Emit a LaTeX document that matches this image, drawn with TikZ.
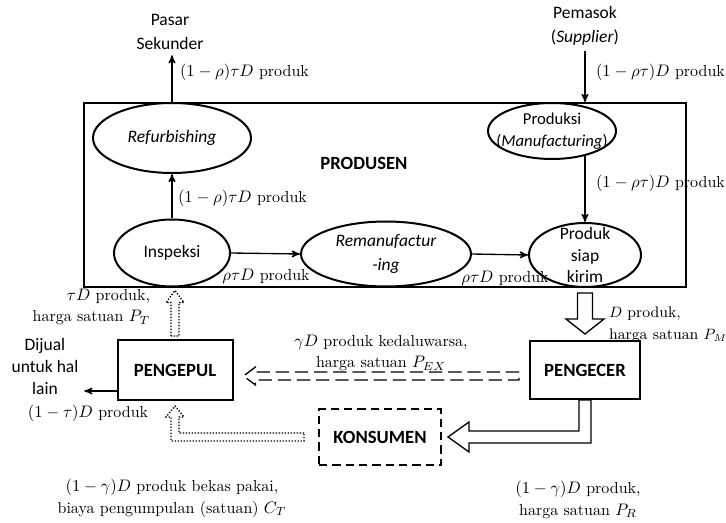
\documentclass[tikz,border=0pt]{standalone}
\usepackage{fontspec}
\setsansfont{Carlito}
\usetikzlibrary{shapes.geometric, arrows, positioning, calc}
\newcommand{\px}{0.6pt}

\begin{document}
\begin{tikzpicture}[
            x=0.6pt, y=-0.6pt,
            >=stealth', % Arrow tips
            % Text styles
            sans/.style={font=\sffamily\fontsize{10.5}{14}\selectfont, align=center},
            lbl/.style={font=\fontsize{9.6}{13}\selectfont, inner sep=1pt},
            % Block styles
            proc/.style={
                ellipse,
                draw,
                very thick,
                inner sep=0pt
            },
            agent/.style={
                rectangle,
                draw,
                very thick,
                inner sep=0pt,
                font=\sffamily\bfseries\fontsize{11.2}{14}\selectfont
            },
            flow/.style={draw, ->, thick},
            hollow/.style={draw, thick, fill=white, line join=miter}
        ]
        \useasboundingbox (0,0) rectangle (726,523);

        % --- Outer nodes ---
        \node [sans] (pasar) at (170,32) {Pasar\\Sekunder};
        \node [sans] (pemasok) at (585,26) {Pemasok\\(\textit{Supplier})};
        \node [sans, font=\sffamily\fontsize{10.5}{13.2}\selectfont] (dijual) at (45,366) {Dijual\\untuk hal\\lain};

        % --- Produsen container ---
        \node [draw, very thick, minimum width=602*\px, minimum height=184*\px] (produsen) at (385,195) {};
        \node [agent, draw=none] (produsenlbl) at (364,163) {PRODUSEN};

        % --- Processes ---
        \node [proc, minimum width=158*\px, minimum height=70*\px,
               label={[sans]center:\textit{Refurbishing}}] (refurb) at (172,138) {};
        \node [proc, minimum width=116*\px, minimum height=67*\px,
               label={[sans]center:Inspeksi}] (inspeksi) at (172,253) {};
        \node [proc, minimum width=170*\px, minimum height=65*\px,
               label={[sans]center:\textit{Remanufactur}\\\textit{-ing}}] (reman) at (386,254) {};
        \node [proc, minimum width=112*\px, minimum height=64*\px,
               label={[sans, font=\sffamily\fontsize{10.5}{13}\selectfont]center:Produk\\siap\\kirim}] (kirim) at (585,255) {};
        \node [proc, minimum width=128*\px, minimum height=56*\px,
               label={[sans, font=\sffamily\fontsize{10}{13.5}\selectfont]center:Produksi\\(\textit{Manufacturing})}] (produksi) at (552,131) {};

        % --- Agents ---
        \node [agent, minimum width=115*\px, minimum height=60*\px] (pengepul) at (175,370) {PENGEPUL};
        \node [agent, minimum width=110*\px, minimum height=58*\px] (pengecer) at (585,370) {PENGECER};
        \node [agent, dash pattern=on 5pt off 3pt, minimum width=122*\px, minimum height=56*\px] (konsumen) at (380,437) {KONSUMEN};

        % --- Edges inside ---
        \path [flow] (refurb.north) -- (refurb.north |- pasar.south);
        \path [flow] (pemasok.south) -- (pemasok.south |- produsen.north);
        \path [flow] (inspeksi.north) -- (refurb.south);
        \path [flow] (inspeksi.east) -- (reman.west);
        \path [flow] (reman.east) -- (kirim.west);
        \path [flow] (kirim.north |- produksi.-35) -- (kirim.north);

        \coordinate (dj) at ($(pengepul.south west)+(0,-10)$);
        \path [flow] (dj) -- (dj -| dijual.east);

        % --- Block arrows ---
        \coordinate (pm) at ($(pengecer.north)+(0,-6)$);
        \draw [hollow] ($(kirim.south)+(-7.5,5)$) -- ($(pm)+(-7.5,-15)$) -- ++(-11.5,0) -- (pm)
            -- ++(19,-15) -- ++(-11.5,0) -- ($(kirim.south)+(7.5,5)$) -- cycle;

        \coordinate (ke) at ($(konsumen.east)+(6,0)$);
        \draw [hollow] ($(pengecer.south)+(-6,0)$) |- ($(ke)+(21,-6)$) -- ++(0,-9) -- (ke)
            -- ++(21,15) -- ++(0,-9) -| ($(pengecer.south)+(6,0)$) -- cycle;

        \coordinate (pw) at ($(pengepul.east)+(10,6)$);
        \coordinate (cw) at ($(pengecer.west |- pw)+(-10,0)$);
        \draw [hollow, dash pattern=on 8pt off 3.5pt] ($(cw)+(0,-4)$) -- ($(pw)+(12,-4)$) -- ++(0,-5) -- (pw)
            -- ++(12,9) -- ++(0,-5) -- ($(cw)+(0,4)$) -- cycle;

        \coordinate (ip) at ($(pengepul.north |- inspeksi.south)+(0,3)$);
        \draw [hollow, densely dotted] ($(pengepul.north)+(-4,-3)$) -- ($(ip)+(-4,12)$) -- ++(-5,0) -- (ip)
            -- ++(9,12) -- ++(-5,0) -- ($(pengepul.north)+(4,-3)$) -- cycle;

        \coordinate (pb) at ($(pengepul.south)+(0,5)$);
        \draw [hollow, densely dotted] ($(konsumen.west)+(-14,-4)$) -| ($(pb)+(4,11)$) -- ++(5,0) -- (pb)
            -- ++(-9,11) -- ++(5,0) |- ($(konsumen.west)+(-14,4)$) -- cycle;

        % --- Flow labels ---
        \node [lbl, anchor=west] (lrs) at (178,72) {$(1-\rho)\tau D$ produk};
        \node [lbl, anchor=west] (lps) at (594,72) {$(1-\rho\tau)D$ produk};
        \node [lbl, anchor=west] (lri) at (176,198) {$(1-\rho)\tau D$ produk};
        \node [lbl, anchor=west] (lpk) at (594,183) {$(1-\rho\tau)D$ produk};
        \node [lbl] (lir) at (266,276) {$\rho\tau D$ produk};
        \node [lbl] (lrk) at (505,278) {$\rho\tau D$ produk};
        \node [lbl, font=\fontsize{9.2}{13}\selectfont, anchor=west, align=left] (lpm) at (607,325) {$D$ produk,\\harga satuan $P_M$};
        \node [lbl, align=center] (lex) at (381,353) {$\gamma D$ produk kedaluwarsa,\\harga satuan $P_{EX}$};
        \node [lbl, anchor=east, align=right] (lpt) at (152,307) {$\tau D$ produk,\\harga satuan $P_T$};
        \node [lbl] (ltau) at (88,413) {$(1-\tau)D$ produk};
        \node [lbl, align=center] (lct) at (172,498) {$(1-\gamma)D$ produk bekas pakai,\\biaya pengumpulan (satuan) $C_T$};
        \node [lbl, align=center] (lpr) at (578,500) {$(1-\gamma)D$ produk,\\harga satuan $P_R$};

\end{tikzpicture}
\end{document}
